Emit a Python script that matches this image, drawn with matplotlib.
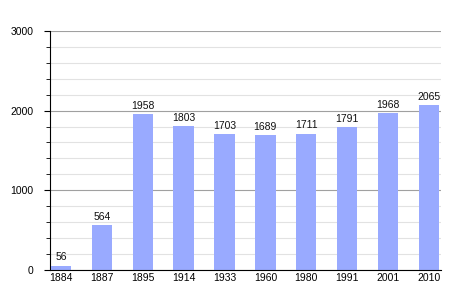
import matplotlib.pyplot as plt
import numpy as np

years = ["1884", "1887", "1895", "1914", "1933", "1960", "1980", "1991", "2001", "2010"]
population = [56, 564, 1958, 1803, 1703, 1689, 1711, 1791, 1968, 2065]

plt.rcParams["font.family"] = ["Liberation Sans", "DejaVu Sans"]

fig = plt.figure(figsize=(4.7, 3.0), dpi=100)
ax = fig.add_axes([0.1064, 0.1, 0.832, 0.797])

x = np.arange(len(years))
ax.bar(x, population, width=0.5, color="#99aaff", zorder=3)

for xi, v in zip(x, population):
    ax.text(xi, v + 40, str(v), ha="center", va="bottom", fontsize=7.5, color="#111111")

ax.set_xlim(-0.27, 9.3)
ax.set_ylim(0, 3000)
ax.set_xticks(x)
ax.set_xticklabels(years)
ax.set_yticks([0, 1000, 2000, 3000])
ax.set_yticks(np.arange(0, 3001, 200), minor=True)

# light minor grid, darker major grid
ax.grid(axis="y", which="minor", color="#e2e2e2", linewidth=0.8, zorder=0)
ax.grid(axis="y", which="major", color="#a0a0a0", linewidth=0.8, zorder=1)

for side in ["top", "right"]:
    ax.spines[side].set_visible(False)
ax.spines["left"].set_color("black")
ax.spines["bottom"].set_color("black")
ax.spines["bottom"].set_zorder(4)

ax.tick_params(axis="x", length=0, labelsize=7.5, pad=2)
ax.tick_params(axis="y", which="major", length=4, labelsize=7.5, pad=8)
ax.tick_params(axis="y", which="minor", length=3)

fig.savefig("out.png", dpi=100)
